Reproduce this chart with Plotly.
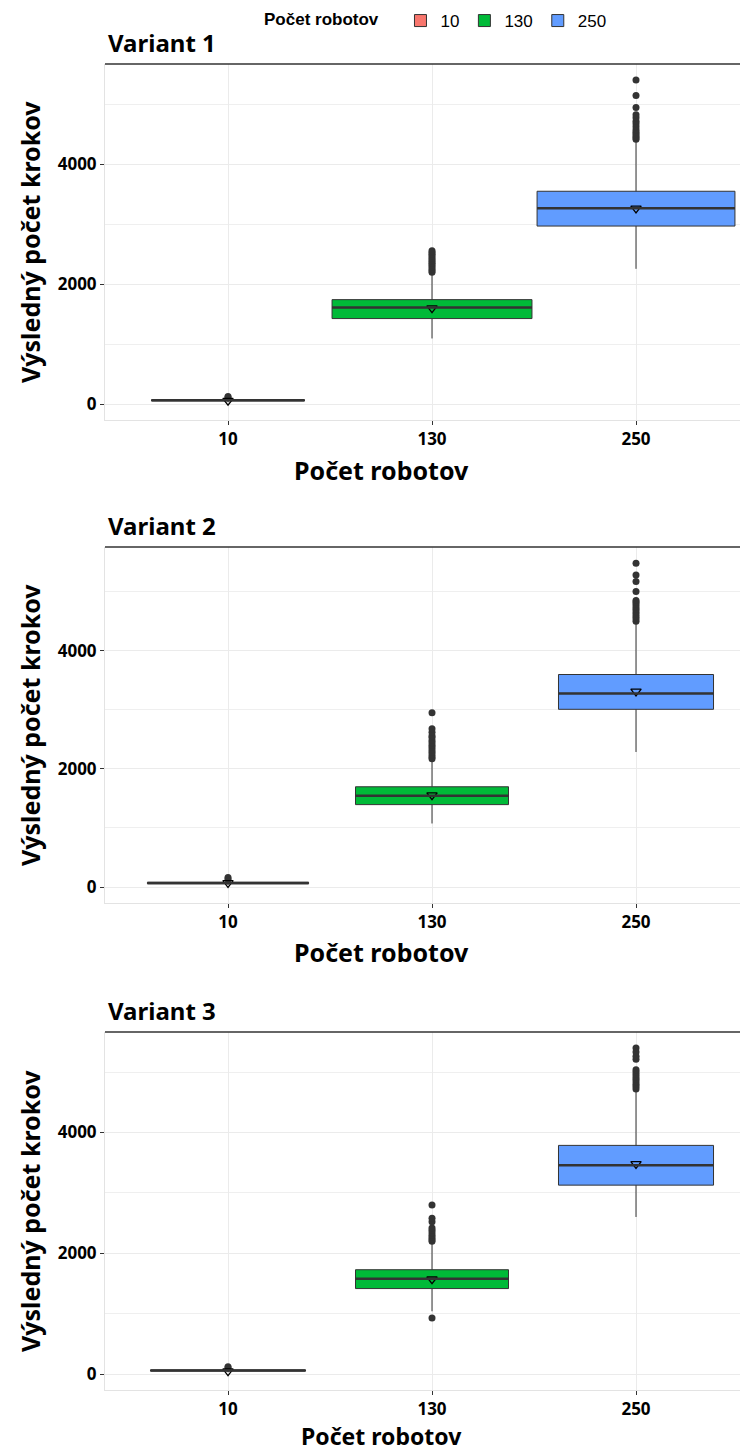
import plotly.graph_objects as go

categories = ["10", "130", "250"]
colors = ["#F8766D", "#00BA38", "#619CFF"]
variants = ["Variant 1", "Variant 2", "Variant 3"]

# box statistics per variant: [10, 130, 250]
q1 = [[52, 1427, 2971], [55, 1395, 3008], [50, 1416, 3128]]
median = [[62, 1610, 3270], [68, 1546, 3277], [60, 1580, 3457]]
q3 = [[72, 1743, 3552], [80, 1697, 3597], [70, 1728, 3786]]
lowerfence = [[30, 1095, 2257], [35, 1076, 2286], [30, 1040, 2601]]
upperfence = [[95, 2180, 4400], [115, 2150, 4480], [95, 2180, 4700]]
means = [[55, 1600, 3265], [70, 1555, 3310], [50, 1570, 3480]]
box_widths = [[0.75, 0.98, 0.97], [0.79, 0.75, 0.76], [0.76, 0.75, 0.76]]

outliers = [
    [[110, 125],
     [2200, 2230, 2260, 2290, 2320, 2350, 2380, 2410, 2440, 2470, 2500, 2530, 2560],
     [4420, 4450, 4480, 4510, 4540, 4580, 4630, 4680, 4720, 4780, 4830, 4950, 5150, 5410]],
    [[130, 160],
     [2170, 2200, 2240, 2280, 2320, 2360, 2400, 2440, 2480, 2530, 2560, 2620, 2680, 2950],
     [4500, 4540, 4580, 4620, 4660, 4700, 4740, 4780, 4820, 4850, 5000, 5170, 5280, 5480]],
    [[105, 120],
     [930, 2200, 2230, 2260, 2300, 2340, 2380, 2420, 2520, 2580, 2800],
     [4720, 4760, 4800, 4840, 4880, 4920, 4960, 5000, 5040, 5210, 5260, 5330, 5400]],
]

y_ranges = [[-266, 5676], [-270, 5755], [-263, 5663]]
y_tick_vals = [0, 2000, 4000]

# The page body adds an 8px offset; the figure is sized to fit the window.
OFF = 8
W, H = 748 - OFF, 1452 - OFF
# panel pixel extents in the reference (top, bottom)
panels_px = [(64, 420), (547, 903), (1032, 1390)]
x_title_px = [470, 952, 1436]
x_title_size = [25, 25, 23]
x_left_px = 105


def px_x(v):
    return (v - OFF) / W


def px_y(v):
    return 1 - (v - OFF) / H


fig = go.Figure()

FONT_BOLD = "Noto Sans"
DARK = "#333333"

for p in range(3):
    suffix = "" if p == 0 else str(p + 1)
    xa, ya = "x" + suffix, "y" + suffix
    for i, cat in enumerate(categories):
        fig.add_trace(go.Box(
            x=[cat], q1=[q1[p][i]], median=[median[p][i]], q3=[q3[p][i]],
            lowerfence=[lowerfence[p][i]], upperfence=[upperfence[p][i]],
            boxpoints=False, width=box_widths[p][i],
            fillcolor=colors[i], line=dict(color=DARK, width=1),
            whiskerwidth=0, name=cat, legendgroup=cat,
            showlegend=(p == 0), xaxis=xa, yaxis=ya,
        ))
        # outliers
        fig.add_trace(go.Scatter(
            x=[cat] * len(outliers[p][i]), y=outliers[p][i], mode="markers",
            marker=dict(color=DARK, size=7), showlegend=False,
            hoverinfo="skip", xaxis=xa, yaxis=ya,
        ))
        # thicker median line (category index i on the category axis)
        fig.add_shape(type="line", xref=xa, yref=ya,
                      x0=i - box_widths[p][i] / 2, x1=i + box_widths[p][i] / 2,
                      y0=median[p][i], y1=median[p][i],
                      line=dict(color=DARK, width=2.5), layer="above")
    # mean triangles
    fig.add_trace(go.Scatter(
        x=categories, y=means[p], mode="markers",
        marker=dict(symbol="triangle-down-open", size=9, color="black",
                    line=dict(width=1.3)),
        showlegend=False, hoverinfo="skip", xaxis=xa, yaxis=ya,
    ))

    top, bot = panels_px[p]
    dom_y = [px_y(bot), px_y(top)]
    fig.layout["xaxis" + suffix] = dict(
        domain=[px_x(x_left_px), 1], anchor=ya, type="category",
        range=[-0.603, 2.549], showgrid=True, gridcolor="#ebebeb", gridwidth=1,
        ticks="outside", ticklen=4, tickcolor=DARK, zeroline=False,
        tickfont=dict(family=FONT_BOLD, size=17, color="black", weight="bold"),
        showline=True, linecolor="#e3e3e3", mirror=False, automargin=False,
    )
    fig.layout["yaxis" + suffix] = dict(
        domain=dom_y, anchor=xa, range=y_ranges[p],
        tickvals=y_tick_vals, ticktext=[str(v) for v in y_tick_vals],
        showgrid=True, gridcolor="#ebebeb", gridwidth=1,
        minor=dict(dtick=1000, tick0=0, showgrid=True, gridcolor="#efefef", gridwidth=1),
        ticks="outside", ticklen=4, tickcolor=DARK, zeroline=False,
        tickfont=dict(family=FONT_BOLD, size=17, color="black", weight="bold"),
        showline=True, linecolor="#e3e3e3", mirror=False, automargin=False,
    )
    # top border line (dark)
    fig.add_shape(type="line", xref="paper", yref="paper",
                  x0=px_x(x_left_px), x1=1, y0=dom_y[1], y1=dom_y[1],
                  line=dict(color=DARK, width=1.5))
    # panel title
    fig.add_annotation(text=variants[p], xref="paper", yref="paper",
                       x=px_x(x_left_px + 1), y=dom_y[1] + 3 / H,
                       xanchor="left", yanchor="bottom", showarrow=False,
                       font=dict(family=FONT_BOLD, size=24, color="black", weight="bold"))
    # x-axis title
    fig.add_annotation(text="Počet robotov", xref="paper", yref="paper",
                       x=px_x(382), y=px_y(x_title_px[p]),
                       xanchor="center", yanchor="middle", showarrow=False,
                       borderpad=0,
                       font=dict(family=FONT_BOLD, size=x_title_size[p], color="black",
                                 weight="bold"))
    # y-axis title
    fig.add_annotation(text="Výsledný počet krokov", xref="paper", yref="paper",
                       x=px_x(30), y=(dom_y[0] + dom_y[1]) / 2, textangle=-90,
                       xanchor="center", yanchor="middle", showarrow=False,
                       font=dict(family=FONT_BOLD, size=25, color="black", weight="bold"))

fig.update_layout(
    width=W, height=H, margin=dict(l=0, r=0, t=0, b=0, autoexpand=False),
    paper_bgcolor="white", plot_bgcolor="white",
    boxmode="overlay",
    legend=dict(orientation="h", x=px_x(262), y=1 + 5 / H, xanchor="left", yanchor="top",
                title=dict(text="<b>Počet robotov</b>   ", side="left",
                           font=dict(family="Liberation Sans", size=17, color="black")),
                font=dict(family="Liberation Sans", size=17, color="black"),
                itemwidth=30, tracegroupgap=0),
)

fig.write_html("out.html")
